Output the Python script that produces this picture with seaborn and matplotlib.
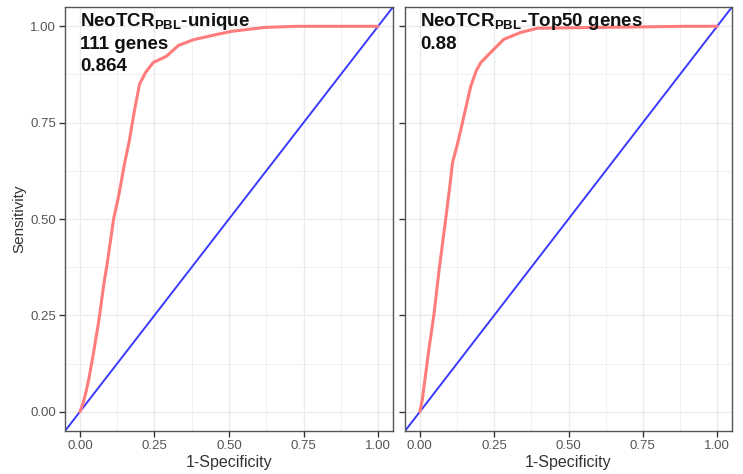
import matplotlib
matplotlib.use("Agg")
import matplotlib.pyplot as plt
import pandas as pd
import seaborn as sns
from matplotlib.ticker import MultipleLocator

# ---- data ----
fpr_unique = [0.0, 0.01, 0.02, 0.03, 0.045, 0.06, 0.066, 0.08, 0.09, 0.10, 0.113, 0.13,
              0.15, 0.165, 0.176, 0.185, 0.20, 0.22, 0.246, 0.29, 0.33, 0.38, 0.46,
              0.51, 0.62, 0.73, 1.0]
tpr_unique = [0.0, 0.02, 0.05, 0.085, 0.15, 0.22, 0.25, 0.33, 0.377, 0.43, 0.50, 0.56,
              0.645, 0.70, 0.75, 0.79, 0.85, 0.88, 0.906, 0.922, 0.95, 0.965, 0.979,
              0.987, 0.997, 1.0, 1.0]
fpr_top50 = [0.0, 0.008, 0.017, 0.03, 0.047, 0.065, 0.087, 0.10, 0.11, 0.125, 0.138,
             0.155, 0.171, 0.19, 0.205, 0.238, 0.282, 0.339, 0.396, 0.6, 0.9, 1.0]
tpr_top50 = [0.0, 0.03, 0.083, 0.16, 0.25, 0.37, 0.50, 0.58, 0.647, 0.69, 0.732,
             0.79, 0.844, 0.885, 0.906, 0.932, 0.966, 0.984, 0.995, 0.997, 1.0, 1.0]
panel_lines = [[r"$\mathbf{NeoTCR}_{\mathbf{PBL}}$-unique", "111 genes", "0.864"],
               [r"$\mathbf{NeoTCR}_{\mathbf{PBL}}$-Top50 genes", "0.88"]]
tick_values = [0.0, 0.25, 0.5, 0.75, 1.0]
tick_labels = ["0.00", "0.25", "0.50", "0.75", "1.00"]

df_unique = pd.DataFrame({"fpr": fpr_unique, "tpr": tpr_unique})
df_top50 = pd.DataFrame({"fpr": fpr_top50, "tpr": tpr_top50})

sns.set_theme(style="white")
plt.rcParams['font.family'] = ['Liberation Sans', 'DejaVu Sans']
plt.rcParams['mathtext.fontset'] = 'custom'
plt.rcParams['mathtext.bf'] = 'Liberation Sans:bold'
plt.rcParams['mathtext.rm'] = 'Liberation Sans'
plt.rcParams['mathtext.it'] = 'Liberation Sans:italic'

W, H = 743, 474
fig = plt.figure(figsize=(W / 100, H / 100), dpi=100)
fig.patch.set_facecolor("white")

ax1 = fig.add_axes([65 / W, 1 - 431 / H, 328 / W, 424 / H])
ax2 = fig.add_axes([405 / W, 1 - 431 / H, 327 / W, 424 / H])

baselines = [1.0, 0.94, 0.883]

for ax, df, lines, show_y in [(ax1, df_unique, panel_lines[0], True),
                               (ax2, df_top50, panel_lines[1], False)]:
    ax.set_xlim(-0.05, 1.05)
    ax.set_ylim(-0.05, 1.05)
    ax.xaxis.set_minor_locator(MultipleLocator(0.125))
    ax.yaxis.set_minor_locator(MultipleLocator(0.125))
    ax.set_xticks(tick_values)
    ax.set_xticklabels(tick_labels)
    ax.set_yticks(tick_values)
    if show_y:
        ax.set_yticklabels(tick_labels)
    else:
        ax.set_yticklabels([])
    ax.grid(which="major", color="#EBEBEB", linewidth=1.0, zorder=0)
    ax.grid(which="minor", color="#EFEFEF", linewidth=0.6, zorder=0)
    ax.set_axisbelow(True)
    for s in ax.spines.values():
        s.set_color("#555555")
        s.set_linewidth(1.0)
    ax.tick_params(axis="both", which="major", length=4, width=1.0, color="#333333",
                   labelsize=9.5, labelcolor="#555555", pad=2.5,
                   bottom=True, left=True)
    ax.tick_params(which="minor", length=0)

    ax.axline((0, 0), slope=1, color="#3A3AFF", linewidth=1.4, zorder=2)
    sns.lineplot(data=df, x="fpr", y="tpr", ax=ax, color="#FF7C7C", linewidth=2.2,
                 estimator=None, sort=False, zorder=3)

    ax.set_xlabel("1-Specificity", fontsize=11.5, color="#333333", labelpad=2)
    if show_y:
        ax.set_ylabel("Sensitivity", fontsize=11, color="#333333", labelpad=3)
    else:
        ax.set_ylabel("")

    for txt, yb in zip(lines, baselines):
        ax.text(0.0, yb, txt, fontsize=13.5, fontweight="bold",
                color="#111111", ha="left", va="baseline", zorder=5)

fig.savefig("out.png", dpi=100, facecolor="white")
